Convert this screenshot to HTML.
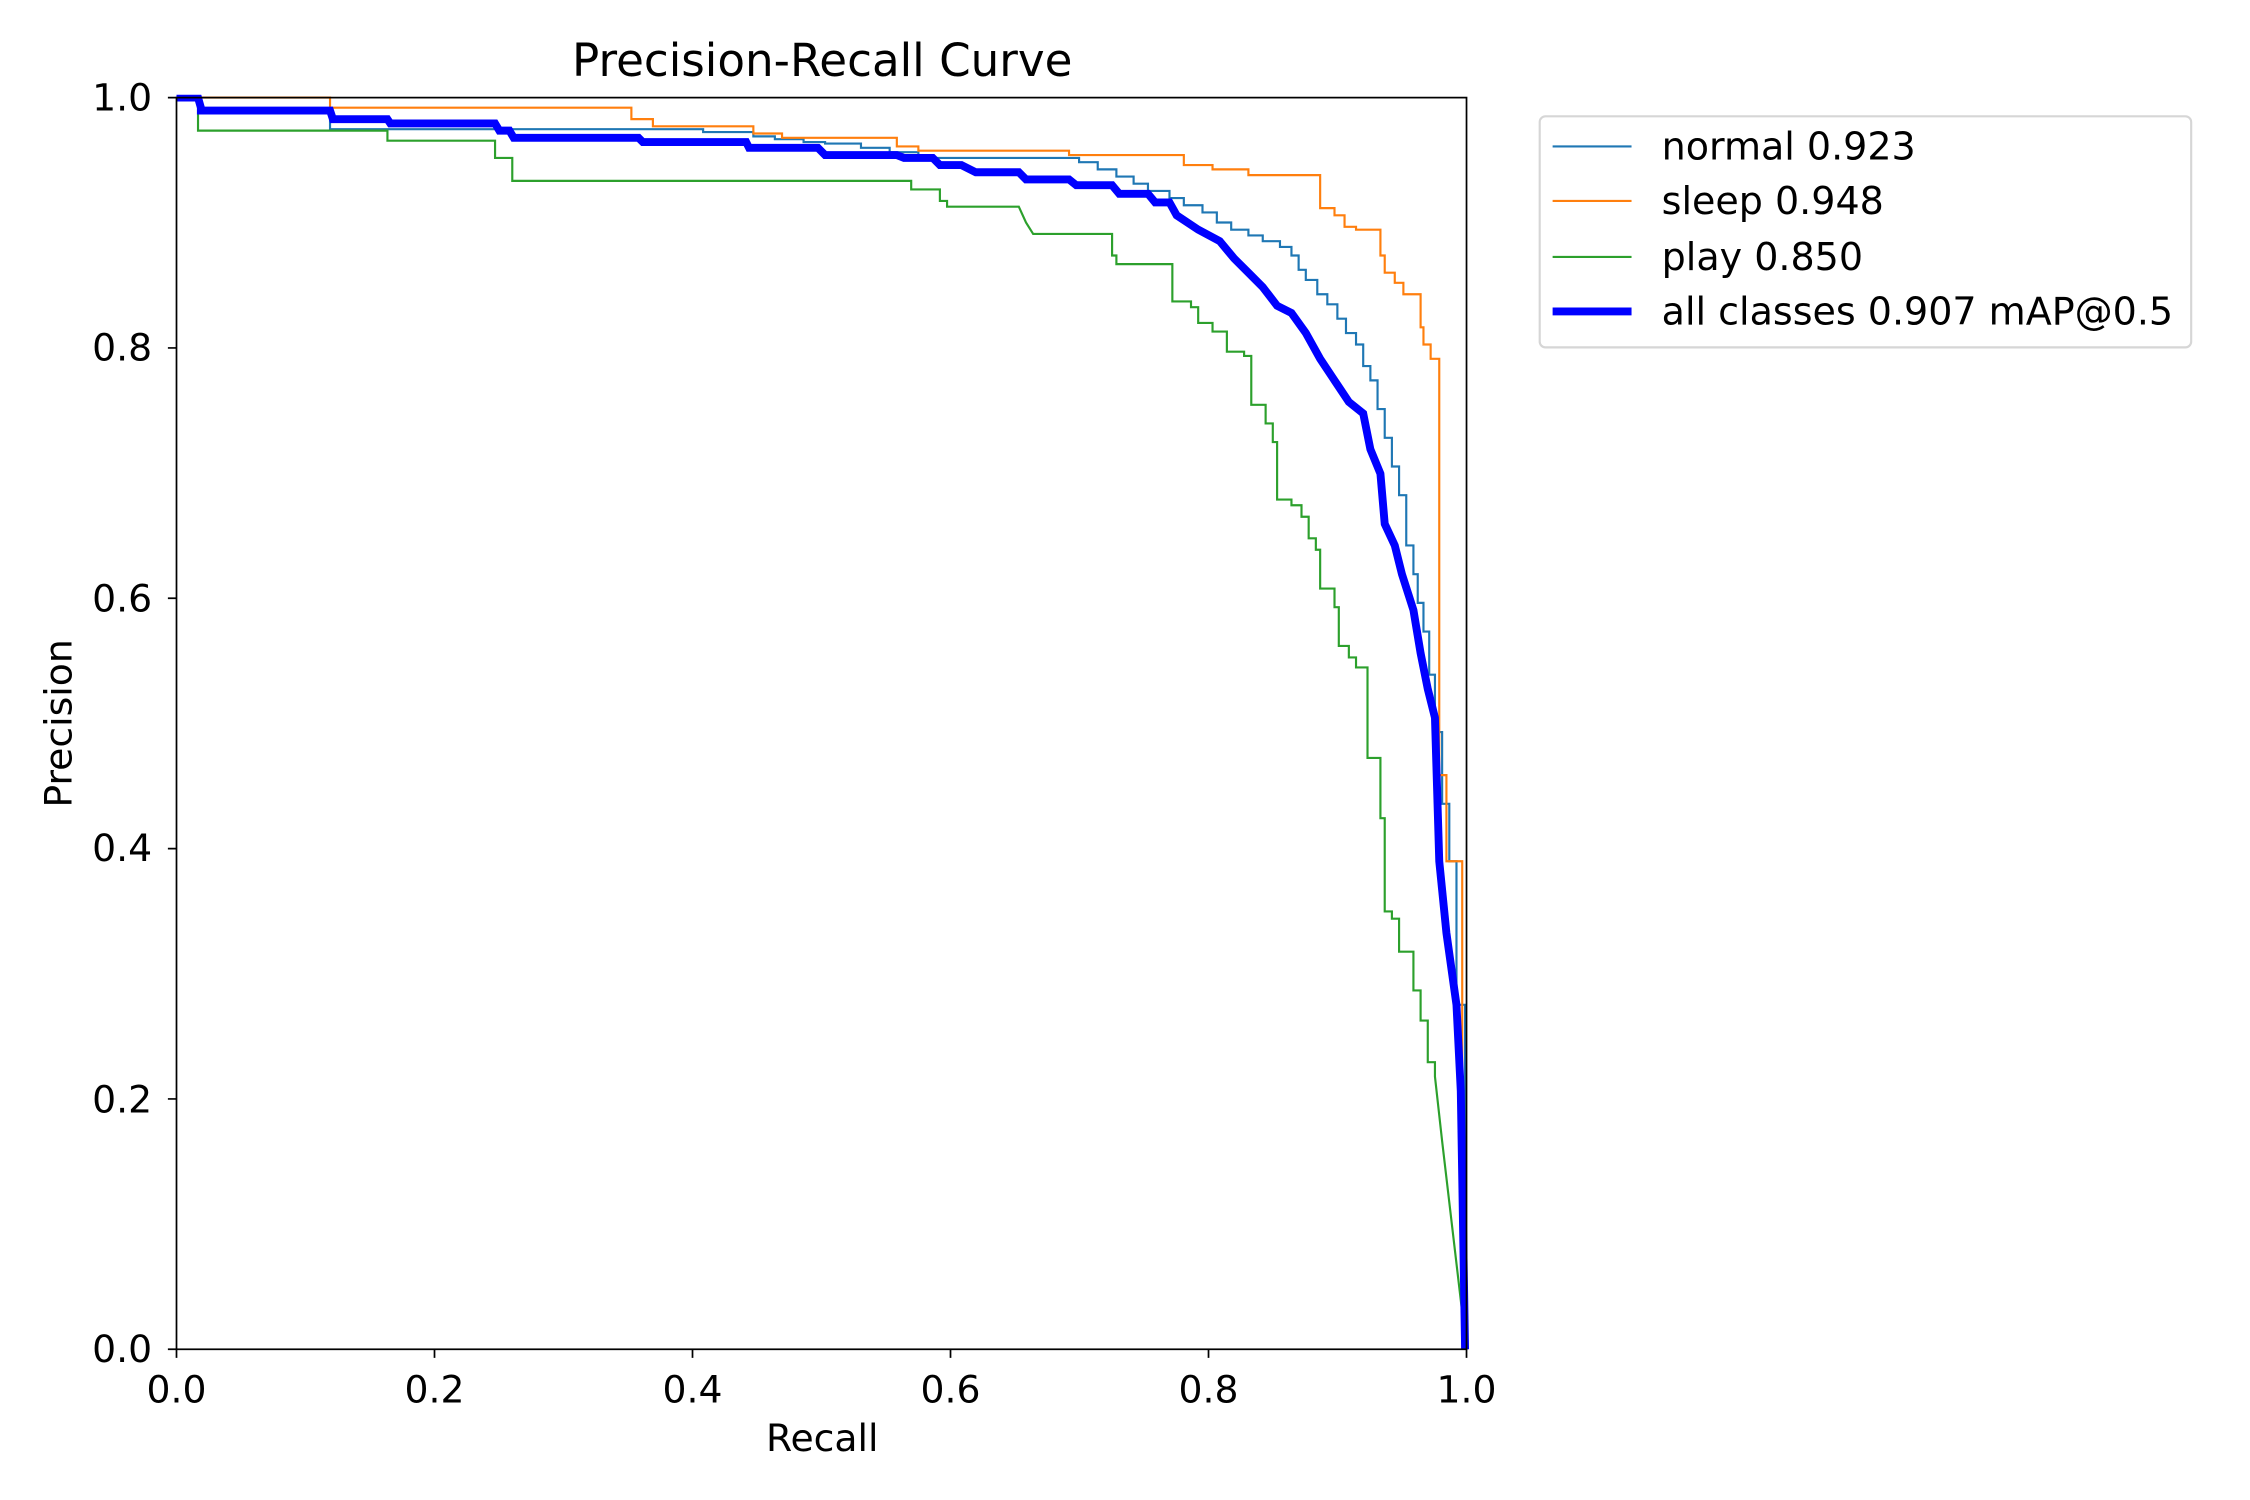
<!DOCTYPE html>
<html><head><meta charset="utf-8"><style>html,body{margin:0;padding:0;background:#fff}svg{display:block}</style></head><body>
<svg width="2250" height="1500" viewBox="0 0 1568 1045" preserveAspectRatio="none" xmlns="http://www.w3.org/2000/svg" font-family="DejaVu Sans, sans-serif">
<rect width="1568" height="1045" fill="#fff"/>
<g fill="none" stroke-linejoin="miter" clip-path="url(#c)">
<clipPath id="c"><rect x="121" y="66" width="903" height="876"/></clipPath>
<path stroke="#1f77b4" stroke-width="1.5" d="M123,68H140V77H230V90H490V92H525V95H540V97H560V99H575V100H600V103H620V106H640V110H745H752V113H765V118H778V123H790V128H800V133H815V138H825V143H838V148H848V155H858V160H870V164H880V168H892V172H900V178H905V188H910V195H918V205H925V212H932V222H938V232H945V240H950V255H955V265H960V285H965V305H970V325H975V345H980V380H985V400H988V420H992V440H996V470H1000V510H1005V560H1010V600H1015V700H1021V940"/>
<path stroke="#ff7f0e" stroke-width="1.5" d="M123,68H230V75H440V83H455V88H525V93H545V96H625V102H640V105H745V108H825V115H845V118H870V122H920V145H930V150H937V158H945V160H962V178H965V190H972V197H978V205H990V228H992V240H997V250H1003V540H1008V555V600H1019V940"/>
<path stroke="#2ca02c" stroke-width="1.5" d="M123,68H138V91H270V98H345V110H357V126H635V132H655V140H660V144H710L715,155L720,163H775V178H778V184H817V210H830V214H835V225H845V231H855V245H867V248H872V282H882V295H887V308H890V348H900V352H907V360H912V375H917V383H920V410H930V423H933V450H940V458H945V465H953V528H962V570H965V635H970V640H975V663H985V690H990V711H995V740H1000V750L1005,795L1022,940"/>
<path stroke="#0000ff" stroke-width="5.5" d="M123,68H138L140,75V77H230L232,83H270L272,86H345L348,91H355L358,96H445L448,99H520L522,103H570L575,108H625L630,110H650L655,115H670L680,120H710L715,125H745L750,129H775L780,135H800L805,141H815L820,150L835,160L850,168L860,180L870,190L880,200L890,213L900,218L910,232L920,250L930,265L940,280L950,288L955,313L962,330L965,365L972,380L977,400L985,425L990,455L995,480L1000,500L1003,600L1008,650L1015,700L1018,760L1021,940"/>
</g>
<rect x="123" y="68" width="899" height="872" fill="none" stroke="#000" stroke-width="1.2"/>
<g stroke="#000" stroke-width="1.2">
<path d="M123,940v6M302.8,940v6M482.6,940v6M662.4,940v6M842.2,940v6M1022,940v6"/>
<path d="M123,940h-6M123,765.6h-6M123,591.2h-6M123,416.8h-6M123,242.4h-6M123,68h-6"/>
</g>
<g font-size="26.3" fill="#000" text-anchor="middle">
<text x="123" y="977">0.0</text><text x="302.8" y="977">0.2</text><text x="482.6" y="977">0.4</text><text x="662.4" y="977">0.6</text><text x="842.2" y="977">0.8</text><text x="1022" y="977">1.0</text>
</g>
<g font-size="26.3" fill="#000" text-anchor="end">
<text x="106" y="949">0.0</text><text x="106" y="775">0.2</text><text x="106" y="600">0.4</text><text x="106" y="426">0.6</text><text x="106" y="251">0.8</text><text x="106" y="77">1.0</text>
</g>
<text x="573" y="1011" font-size="26.3" text-anchor="middle">Recall</text>
<text transform="translate(50,504) rotate(-90)" font-size="26.3" text-anchor="middle">Precision</text>
<text x="573" y="53" font-size="31.5" text-anchor="middle">Precision-Recall Curve</text>
<rect x="1073" y="81" width="454" height="161" rx="4" fill="#fff" stroke="#d6d6d6" stroke-width="1.5"/>
<g stroke-width="1.5">
<line x1="1082" y1="102" x2="1137" y2="102" stroke="#1f77b4"/>
<line x1="1082" y1="140" x2="1137" y2="140" stroke="#ff7f0e"/>
<line x1="1082" y1="179" x2="1137" y2="179" stroke="#2ca02c"/>
<line x1="1082" y1="217" x2="1137" y2="217" stroke="#0000ff" stroke-width="5.5"/>
</g>
<g font-size="26.5" fill="#000">
<text x="1158" y="111">normal 0.923</text>
<text x="1158" y="149">sleep 0.948</text>
<text x="1158" y="188">play 0.850</text>
<text x="1158" y="226">all classes 0.907 mAP@0.5</text>
</g>
</svg>
</body></html>
